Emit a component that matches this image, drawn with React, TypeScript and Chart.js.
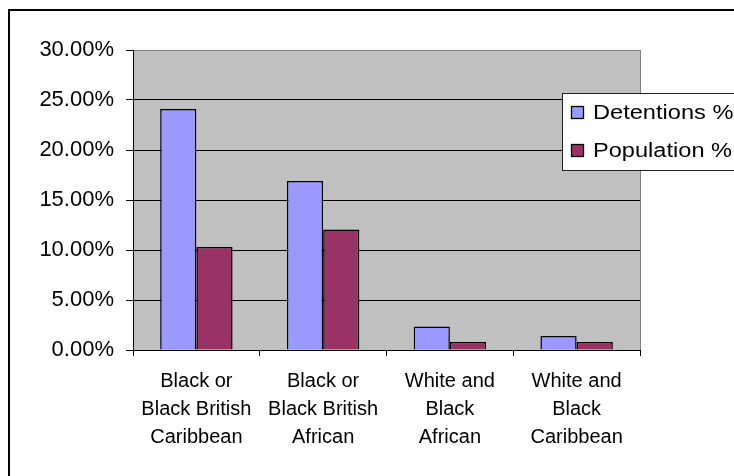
import React, { useEffect, useRef } from "react";
import { Chart, registerables } from "chart.js";

Chart.register(...registerables);

const categories: string[][] = [
  ["Black or", "Black British", "Caribbean"],
  ["Black or", "Black British", "African"],
  ["White and", "Black", "African"],
  ["White and", "Black", "Caribbean"],
];
const detentions = [24.1, 16.9, 2.35, 1.4];
const population = [10.3, 12.05, 0.8, 0.8];
const seriesNames = ["Detentions %", "Population %"];
const seriesColors = ["#9999FF", "#993366"];

const FONT = "'Liberation Sans', Arial, sans-serif";

const framePlugin = {
  id: "frame",
  beforeDraw(chart: any) {
    const { ctx, chartArea } = chart;
    ctx.save();
    ctx.fillStyle = "#ffffff";
    ctx.fillRect(0, 0, chart.width, chart.height);
    ctx.strokeStyle = "#000000";
    ctx.lineWidth = 2;
    ctx.strokeRect(9, 10, chart.width + 50, chart.height + 50);
    ctx.fillStyle = "#C0C0C0";
    ctx.fillRect(chartArea.left, chartArea.top, chartArea.right - chartArea.left, chartArea.bottom - chartArea.top);
    ctx.strokeStyle = "#808080";
    ctx.lineWidth = 1;
    ctx.strokeRect(chartArea.left + 0.5, chartArea.top + 0.5, chartArea.right - chartArea.left, chartArea.bottom - chartArea.top);
    ctx.restore();
  },
};

const legendPlugin = {
  id: "customLegend",
  afterDraw(chart: any) {
    const { ctx } = chart;
    const x0 = 562.5;
    const y0 = 93.5;
    ctx.save();
    ctx.fillStyle = "#ffffff";
    ctx.fillRect(x0, y0, 300, 77);
    ctx.strokeStyle = "#202020";
    ctx.lineWidth = 1;
    ctx.strokeRect(x0, y0, 300, 77);
    const rows = [113, 151];
    chart.data.datasets.forEach((ds: any, i: number) => {
      const cy = rows[i];
      ctx.fillStyle = ds.backgroundColor;
      ctx.fillRect(571.5, cy - 6.5, 12, 12);
      ctx.strokeStyle = "#000";
      ctx.lineWidth = 1.3;
      ctx.strokeRect(571.5, cy - 6.5, 12, 12);
      ctx.save();
      ctx.translate(593, cy);
      ctx.scale(1.18, 1);
      ctx.fillStyle = "#000";
      ctx.font = `20px ${FONT}`;
      ctx.textBaseline = "middle";
      ctx.textAlign = "left";
      ctx.fillText(ds.label, 0, 0);
      ctx.restore();
    });
    ctx.restore();
  },
};

export default function App() {
  const ref = useRef<HTMLCanvasElement | null>(null);
  useEffect(() => {
    if (!ref.current) return;
    const chart = new Chart(ref.current, {
      type: "bar",
      data: {
        labels: categories,
        datasets: [
          {
            label: seriesNames[0],
            data: detentions,
            backgroundColor: seriesColors[0],
            borderColor: "#000",
            borderWidth: 1.5,
          },
          {
            label: seriesNames[1],
            data: population,
            backgroundColor: seriesColors[1],
            borderColor: "#000",
            borderWidth: 1.5,
          },
        ],
      },
      options: {
        responsive: false,
        animation: false,
        devicePixelRatio: 1,
        layout: { padding: { left: 0, top: 50, right: 94, bottom: 0 } },
        datasets: {
          bar: { categoryPercentage: 2 / 3.5, barPercentage: 1 },
        },
        plugins: {
          legend: { display: false },
          tooltip: { enabled: false },
        },
        scales: {
          x: {
            grid: {
              offset: true,
              drawOnChartArea: false,
              drawTicks: true,
              tickLength: 6,
              tickColor: "#000",
            },
            border: { display: true, color: "#000", width: 1 },
            ticks: {
              autoSkip: false,
              maxRotation: 0,
              minRotation: 0,
              padding: 11,
              color: "#000",
              font: { family: FONT, size: 20, lineHeight: 1.4 },
            },
            afterFit: (scale: any) => {
              scale.height = 126;
            },
          },
          y: {
            min: 0,
            max: 30,
            grid: {
              color: (c: any) => (c.tick && c.tick.value === 30 ? "#808080" : "#000"),
              tickColor: "#000",
              tickLength: 7,
              drawTicks: true,
            },
            border: { display: true, color: "#000", width: 1 },
            ticks: {
              stepSize: 5,
              padding: 12,
              color: "#000",
              font: { family: FONT, size: 22 },
              callback: (v: any) => Number(v).toFixed(2) + "%",
            },
            afterFit: (scale: any) => {
              scale.width = 133;
            },
          },
        },
      },
      plugins: [framePlugin, legendPlugin],
    });
    return () => chart.destroy();
  }, []);
  return (
    <div style={{ position: "fixed", left: 0, top: 0, width: 734, height: 476, background: "#fff" }}>
      <canvas ref={ref} width={734} height={476} style={{ width: 734, height: 476, display: "block" }} />
    </div>
  );
}
